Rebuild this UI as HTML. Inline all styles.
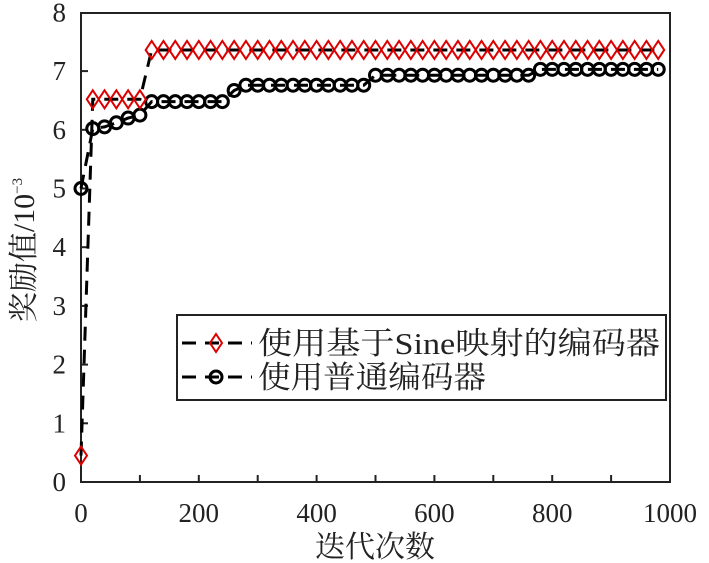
<!DOCTYPE html>
<html><head><meta charset="utf-8"><style>
html,body{margin:0;padding:0;background:#fff;width:709px;height:563px;overflow:hidden}
svg text{font-family:"Liberation Serif","Noto Serif CJK SC",serif;fill:#222}
</style></head><body>
<svg id="s" width="709" height="563" xmlns="http://www.w3.org/2000/svg">
<rect x="81" y="13" width="589" height="469" fill="none" stroke="#222" stroke-width="2"/>
<g id="ticks" stroke="#222" stroke-width="2"></g>
<g font-size="27" text-anchor="end" id="yl"></g>
<g font-size="27" text-anchor="middle" id="xl"></g>
<text x="375" y="557" font-size="30" text-anchor="middle">迭代次数</text>
<text transform="translate(34,250) rotate(-90)" font-size="30" text-anchor="middle">奖励值/10<tspan font-size="15" dy="-12">−3</tspan></text>
<g id="plot"></g>
<rect x="177" y="315" width="489" height="85" fill="#fff" stroke="#222" stroke-width="2"/>
<line x1="182" y1="343" x2="252" y2="343" stroke="#000" stroke-width="3" stroke-dasharray="14,9"/>
<polygon points="216,334 222,343 216,352 210,343" fill="none" stroke="#d00" stroke-width="2"/>
<line x1="182" y1="377" x2="252" y2="377" stroke="#000" stroke-width="3" stroke-dasharray="14,9"/>
<circle cx="216" cy="377" r="6" fill="none" stroke="#000" stroke-width="3"/>
<text x="258" y="354" font-size="31" textLength="402" lengthAdjust="spacingAndGlyphs">使用基于Sine映射的编码器</text>
<text x="258" y="388" font-size="31" textLength="228" lengthAdjust="spacingAndGlyphs">使用普通编码器</text>
</svg>
<script>
const X=v=>81+v*0.589, Y=v=>482-v*58.7;
const ns="http://www.w3.org/2000/svg";
function el(p,t,a,txt){const e=document.createElementNS(ns,t);for(const k in a)e.setAttribute(k,a[k]);if(txt!==undefined)e.textContent=txt;document.getElementById(p).appendChild(e);}
for(let i=0;i<=8;i++){el('yl','text',{x:66,y:Y(i)+9},i);if(i>0&&i<8)el('ticks','line',{x1:81,x2:88,y1:Y(i),y2:Y(i)});}
for(let i=0;i<=10;i++){if(i%2==0)el('xl','text',{x:X(i*100),y:522},i*100);if(i>0&&i<10)el('ticks','line',{x1:X(i*100),x2:X(i*100),y1:482,y2:475});}
const xs=[];for(let i=0;i<50;i++)xs.push(i*20);
const r=xs.map(x=>x==0?0.45:x<=100?6.52:7.36);
const b=xs.map(x=>{if(x==0)return 5.0;const m={20:6.02,40:6.05,60:6.12,80:6.2,100:6.25,260:6.67};if(m[x])return m[x];if(x<=240)return 6.48;if(x<=480)return 6.76;if(x<=760)return 6.93;return 7.03;});
el('plot','polyline',{points:xs.map((x,i)=>X(x)+','+Y(b[i])).join(' '),fill:'none',stroke:'#000','stroke-width':3,'stroke-dasharray':'14,9'});
el('plot','polyline',{points:xs.map((x,i)=>X(x)+','+Y(r[i])).join(' '),fill:'none',stroke:'#000','stroke-width':3,'stroke-dasharray':'14,9'});
xs.forEach((x,i)=>el('plot','circle',{cx:X(x),cy:Y(b[i]),r:6,fill:'none',stroke:'#000','stroke-width':3}));
xs.forEach((x,i)=>{const cx=X(x),cy=Y(r[i]);el('plot','polygon',{points:`${cx},${cy-9} ${cx+6},${cy} ${cx},${cy+9} ${cx-6},${cy}`,fill:'none',stroke:'#d00','stroke-width':2});});
</script>
</body></html>
